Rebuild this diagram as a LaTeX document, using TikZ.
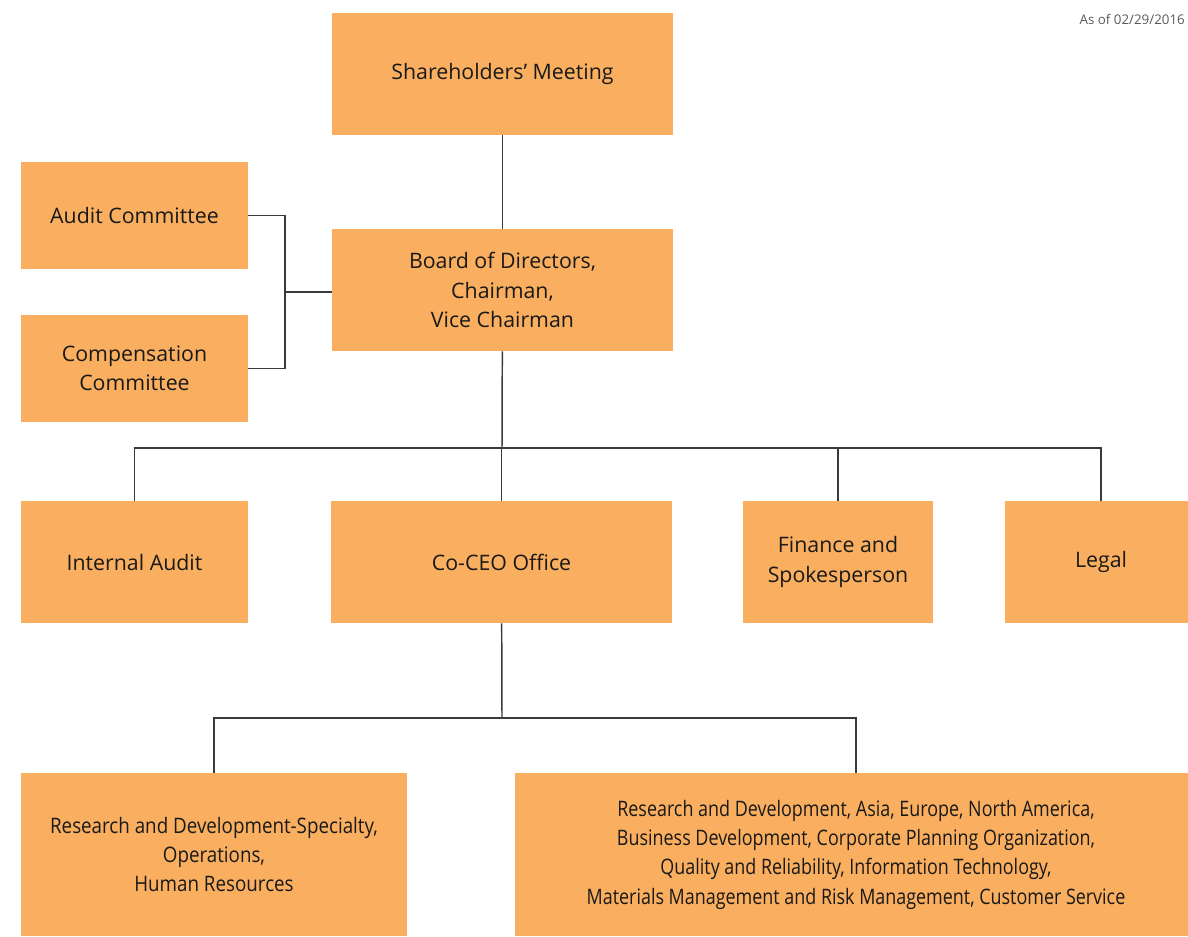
\documentclass[tikz,border=0pt]{standalone}
\usepackage{fontspec}
\setmainfont{Open Sans}
\newfontfamily\narrowfont[FakeStretch=0.84]{Open Sans}
\newfontfamily\halfnarrowfont[FakeStretch=0.88]{Open Sans}
\usetikzlibrary{positioning}
\definecolor{Orgbox}{HTML}{F9AF5F}
\definecolor{Orgline}{HTML}{3A3A3A}
\tikzset{
every node/.style={inner sep=0pt,align=center,text=black!90,font=\fontsize{16}{22}\selectfont},
style1/.style= {rectangle,fill=Orgbox,minimum height=91.5pt},
style2/.style= {rectangle,fill=Orgbox,minimum height=80.25pt,minimum width=170.25pt},
style3/.style= {rectangle,fill=Orgbox,minimum height=122.25pt},
link/.style= {draw=Orgline,line width=1.1pt}
}

\begin{document}
\begin{tikzpicture}[x=0.75pt,y=-0.75pt]
\useasboundingbox (0,0) rectangle (1188,937);

\node[style1,minimum width=255.75pt] (sh) at (502.5,74) {Shareholders' Meeting};
\node[style1,minimum width=255.75pt] (bd) at (502.5,290) {Board of Directors,\\Chairman,\\Vice Chairman};

\node[style2] (ac) at (134.5,215.5) {Audit Committee};
\node[style2] (cc) at (134.5,368.5) {Compensation\\Committee};

\node[style1,minimum width=170.25pt] (ia) at (134.5,562) {Internal Audit};
\node[style1,minimum width=255.75pt] (co) at (501.5,562) {Co-CEO Office};
\node[style1,minimum width=142.5pt] (fs) at (838,562) {Finance and\\Spokesperson};
\node[style1,minimum width=144pt] (lg) at (1101,562) {Legal};

\node[style3,minimum width=289.5pt,font=\halfnarrowfont\fontsize{16}{22}\selectfont] (rs) at (214,854.5)
  {Research and Development-Specialty,\\Operations,\\Human Resources};
\node[style3,minimum width=511.5pt,font=\narrowfont\fontsize{16}{22}\selectfont] (rg) at (856,854.5)
  {Research and Development, Asia, Europe, North America,\\Business Development, Corporate Planning Organization,\\Quality and Reliability, Information Technology,\\Materials Management and Risk Management, Customer Service};

\node[anchor=base east,text=black!65,font=\fontsize{10}{12}\selectfont] (dt) at (1185,25) {As of 02/29/2016};

\coordinate (cm) at (285,292);
\coordinate (bus1) at (502,448);
\coordinate (bus2) at (502,718);

\draw[link] (sh) -- (bd);
\draw[link] (ac.east) -| (cm) |- (cc.east);
\draw[link] (cm) -- (cm -| bd.west);

\draw[link] (bd) -- (bus1);
\foreach \unit in {ia,co,fs,lg}
  \draw[link] (bus1) -| (\unit.north);

\draw[link] (co) -- (bus2);
\foreach \unit in {rs,rg}
  \draw[link] (bus2) -| (\unit.north);
\end{tikzpicture}
\end{document}
